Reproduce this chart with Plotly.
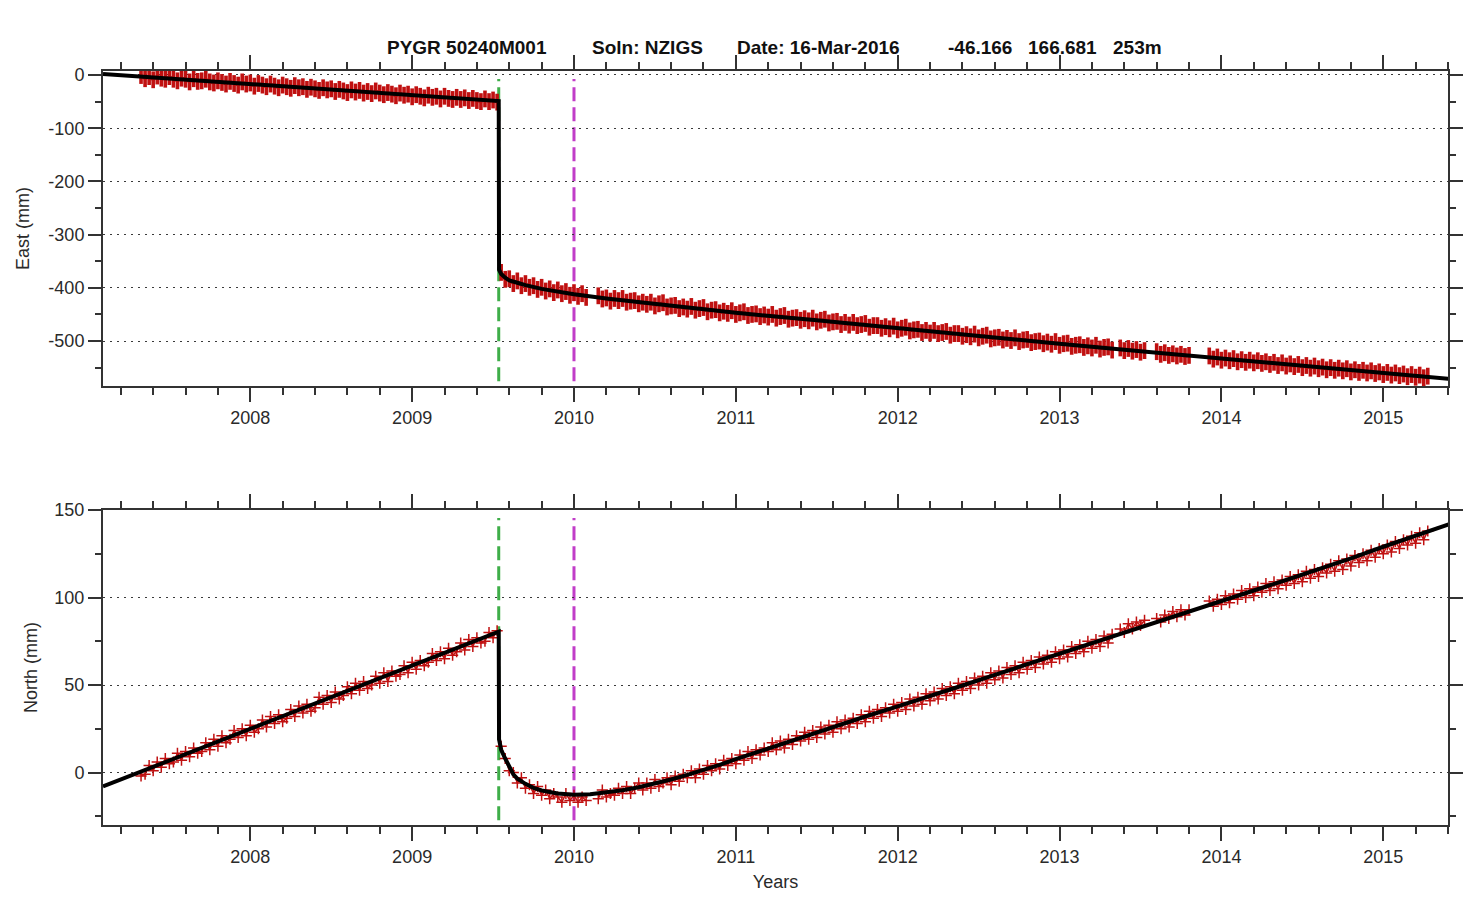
import plotly.graph_objects as go
from plotly.subplots import make_subplots

STEP = 0.025  # spacing of the plotted position solutions, in years

# ---------------------------------------------------------------------------
# Position solutions (mm), one block per continuous span of data
# ---------------------------------------------------------------------------
pre_start = 2007.325
east_pre = [-1, -7, -3, -9, -2, -6, -8, -3, -8, -11, -6, -8, -13, -7, -12, -11,
            -8, -13, -15, -11, -14, -17, -12, -16, -19, -13, -17, -15, -21, -16,
            -19, -22, -17, -21, -24, -19, -22, -25, -20, -24, -22, -27, -23, -26,
            -29, -24, -28, -26, -31, -27, -30, -33, -28, -32, -29, -34, -31, -35,
            -30, -34, -37, -33, -36, -39, -34, -38, -36, -41, -37, -40, -43, -38,
            -42, -40, -45, -40, -44, -46, -42, -46, -43, -48, -44, -48, -50, -45,
            -50, -47, -51]
north_pre = [-2, -1, 4, 1, 6, 3, 8, 5, 6, 11, 7, 12, 9, 14, 11, 12, 17, 13, 19,
             15, 21, 17, 19, 24, 20, 25, 21, 27, 23, 25, 30, 26, 32, 28, 33, 29,
             31, 36, 32, 38, 34, 39, 35, 37, 43, 39, 44, 40, 46, 42, 44, 49, 45,
             51, 47, 52, 48, 50, 55, 51, 57, 52, 58, 55, 56, 61, 57, 63, 59, 64,
             61, 63, 68, 64, 69, 65, 71, 67, 69, 74, 70, 76, 72, 77, 74, 75, 80,
             77, 81]

post1_start = 2009.55
east_post1 = [-371, -384, -383, -392, -387, -396, -392, -399, -396, -403, -399,
              -406, -402, -409, -404, -411, -407, -414, -409, -416, -411, -418]
north_post1 = [15, 8, 1, 0, -6, -3, -9, -7, -12, -8, -13, -10, -15, -12, -14,
               -17, -12, -16, -13, -17, -14, -16]

post2_start = 2010.15
east_post2 = [-415, -421, -419, -425, -420, -424, -420, -427, -425, -424, -430,
              -427, -431, -427, -434, -430, -428, -436, -434, -433, -439, -436,
              -440, -435, -442, -439, -437, -445, -442, -441, -447, -444, -448,
              -443, -450, -447, -445, -452, -450, -449, -454, -451, -455, -450,
              -457, -454, -452, -459, -457, -456, -461, -458, -462, -457, -464,
              -461, -459, -466, -464, -463, -469, -465, -470, -465, -471, -469,
              -467, -474, -471, -471, -476, -473, -477, -472, -479, -476, -474,
              -481, -479, -478, -484, -480, -485, -480, -486, -484, -482, -489,
              -486, -486, -491, -488, -492, -487, -494, -491, -489, -496, -494,
              -493, -498, -495, -499, -494, -501, -498, -497, -503, -501, -500,
              -505, -502, -506, -501, -508, -505, -504, -510, -508, -507, -512,
              -509, -513, -508, -515, -512, -511, -517]
north_post2 = [-15, -10, -14, -12, -13, -9, -12, -8, -12, -9, -6, -10, -6, -9,
               -4, -8, -6, -3, -7, -2, -5, -1, -3, 1, -3, 2, -1, 4, 1, 5, 2, 7,
               4, 8, 5, 10, 7, 12, 8, 13, 10, 14, 12, 17, 13, 18, 14, 19, 16, 21,
               18, 23, 19, 24, 20, 26, 22, 27, 23, 29, 25, 30, 26, 31, 28, 33, 29,
               35, 31, 36, 32, 37, 34, 39, 35, 40, 36, 42, 38, 43, 39, 45, 41, 46,
               42, 48, 44, 49, 45, 51, 47, 52, 48, 54, 50, 55, 51, 57, 53, 58, 54,
               60, 56, 61, 57, 63, 59, 64, 60, 66, 62, 67, 63, 69, 65, 70, 66, 72,
               68, 73, 69, 75, 71, 76, 72, 78, 74, 79]

post3_start = 2013.375
east_post3 = [-513, -518, -514, -519, -516, -521, -518]
north_post3 = [82, 80, 85, 82, 86, 84, 87]

post4_start = 2013.6
east_post4 = [-520, -525, -522, -527, -524, -528, -525, -529, -527]
north_post4 = [88, 86, 90, 88, 92, 89, 93, 90, 93]

post5_start = 2013.925
east_post5 = [-528, -534, -530, -536, -532, -537, -533, -539, -535, -540, -536,
              -541, -537, -542, -539, -544, -540, -546, -541, -547, -543, -548,
              -544, -550, -546, -551, -547, -552, -549, -554, -550, -555, -551,
              -556, -552, -558, -554, -559, -555, -560, -556, -561, -558, -563,
              -559, -564, -560, -565, -562, -567, -563, -568, -564, -569, -566]
north_post5 = [98, 95, 99, 96, 101, 97, 102, 99, 104, 100, 105, 101, 106, 103,
               108, 104, 109, 105, 110, 107, 112, 108, 113, 109, 115, 111, 116,
               112, 117, 114, 119, 115, 121, 116, 122, 118, 124, 120, 125, 121,
               127, 123, 128, 125, 130, 126, 132, 128, 133, 130, 135, 131, 137,
               133, 138]

# ---------------------------------------------------------------------------
# Fitted trajectory model (linear + offset + postseismic decay)
# ---------------------------------------------------------------------------
east_model_t = [2007.09, 2008.0, 2009.0, 2009.535, 2009.537, 2009.55, 2009.575,
                2009.6, 2009.65, 2009.7, 2009.8, 2009.9, 2010.0, 2010.2, 2010.4,
                2010.6, 2010.8, 2011.0, 2011.5, 2012.0, 2012.5, 2013.0, 2013.5,
                2014.0, 2014.5, 2015.0, 2015.41]
east_model = [2, -17, -38, -49, -366, -374, -381, -386, -390.5, -395, -402, -407,
              -412, -420, -427, -434, -441, -447, -461, -476, -491, -505, -519,
              -533, -547, -560, -571]

north_model_t = [2007.09, 2008.0, 2009.0, 2009.535, 2009.537, 2009.55, 2009.575,
                 2009.6, 2009.625, 2009.65, 2009.7, 2009.75, 2009.8, 2009.9,
                 2010.0, 2010.1, 2010.2, 2010.3, 2010.4, 2010.5, 2010.6, 2010.7,
                 2010.8, 2010.9, 2011.0, 2011.2, 2011.4, 2011.6, 2011.8, 2012.0,
                 2012.2, 2012.4, 2012.6, 2012.8, 2013.0, 2013.2, 2013.4, 2013.6,
                 2013.8, 2014.0, 2014.2, 2014.4, 2014.6, 2014.8, 2015.0, 2015.2,
                 2015.41]
north_model = [-8, 25, 61.2, 80.5, 19, 13, 8, 3, -1, -3.5, -6.5, -8.8, -10.3, -12,
               -12.7, -12.4, -11.5, -10.1, -8.4, -6.4, -4, -1.4, 1.4, 4.4, 7.6,
               13.8, 20.1, 26.1, 32, 37.8, 43.6, 49.7, 55.8, 61.9, 68, 74, 79.8,
               85.8, 91.8, 98, 104, 110, 116, 122.4, 129, 135.5, 142]

# Event epochs: earthquake offset and model break
event_epochs = [2009.535, 2010.0]
event_colors = ["#3fae49", "#c13dc8"]

# Axis ticks
year_ticks = [2008, 2009, 2010, 2011, 2012, 2013, 2014, 2015]
east_ticks = [0, -100, -200, -300, -400, -500]
east_ticktext = ["0", "-100", "-200", "-300", "-400", "-500"]
north_ticks = [0, 50, 100, 150]
north_ticktext = ["0", "50", "100", "150"]

title_parts = ["PYGR 50240M001", "Soln: NZIGS", "Date: 16-Mar-2016",
               "-46.166", "166.681", "253m"]
title_left_px = [385, 590, 735, 946, 1026, 1111]

X_RANGE = [2007.09, 2015.40]
EAST_RANGE = [-584.5, 7.5]
NORTH_RANGE = [-30, 150]


def join_blocks(blocks):
    """Concatenate (start, values) blocks, separated by gaps."""
    xs, ys = [], []
    for start, vals in blocks:
        if xs:
            xs.append(None)
            ys.append(None)
        xs.extend(round(start + STEP * i, 3) for i in range(len(vals)))
        ys.extend(vals)
    return xs, ys


starts = [pre_start, post1_start, post2_start, post3_start, post4_start, post5_start]
east_blocks = [east_pre, east_post1, east_post2, east_post3, east_post4, east_post5]
north_blocks = [north_pre, north_post1, north_post2, north_post3, north_post4, north_post5]

ex, ey = join_blocks(list(zip(starts, east_blocks)))
nx, ny = join_blocks(list(zip(starts, north_blocks)))

DATA_RED = "#c01010"
AXIS_COL = "#333333"
FONT = "Liberation Sans, Arial, sans-serif"
TITLE_FONT = "Liberation Sans, Arial, sans-serif"

fig = make_subplots(rows=2, cols=1, vertical_spacing=124 / 754)

fig.add_trace(go.Scatter(
    x=ex, y=ey, mode="lines+markers",
    line=dict(color=DATA_RED, width=3),
    marker=dict(symbol="line-ns", size=12, line=dict(color=DATA_RED, width=3.6)),
    connectgaps=False, showlegend=False), row=1, col=1)
fig.add_trace(go.Scatter(
    x=east_model_t, y=east_model, mode="lines",
    line=dict(color="black", width=4), showlegend=False), row=1, col=1)

fig.add_trace(go.Scatter(
    x=nx, y=ny, mode="lines+markers",
    line=dict(color=DATA_RED, width=1.5),
    marker=dict(symbol="cross-thin", size=8, line=dict(color=DATA_RED, width=1.5)),
    connectgaps=False, showlegend=False), row=2, col=1)
fig.add_trace(go.Scatter(
    x=north_model_t, y=north_model, mode="lines",
    line=dict(color="black", width=4), showlegend=False), row=2, col=1)

# Vertical event markers in both panels
for xref, yref in (("x", "y domain"), ("x2", "y2 domain")):
    for ep, col in zip(event_epochs, event_colors):
        fig.add_shape(type="line", xref=xref, yref=yref, x0=ep, x1=ep,
                      y0=0.015, y1=0.975, layer="below",
                      line=dict(color=col, width=3, dash="14px,6px"))

xaxis_style = dict(
    range=X_RANGE, tickmode="array", tickvals=year_ticks,
    ticktext=[str(y) for y in year_ticks],
    ticks="outside", ticklen=14, tickwidth=2, tickcolor=AXIS_COL,
    showline=True, linewidth=2, linecolor=AXIS_COL, mirror="ticks",
    showgrid=False, zeroline=False,
    tickfont=dict(family=FONT, size=18, color="#2a2a2a"),
    minor=dict(tickmode="linear", tick0=2007.0, dtick=0.2, ticks="outside",
               ticklen=7, tickwidth=1.5, tickcolor=AXIS_COL, showgrid=False),
)
yaxis_style = dict(
    ticks="outside", ticklen=13, tickwidth=2, tickcolor=AXIS_COL,
    showline=True, linewidth=2, linecolor=AXIS_COL, mirror="ticks",
    showgrid=True, gridcolor="#3a3a3a", gridwidth=1.3, griddash="2px,5px",
    zeroline=False, tickmode="array",
    tickfont=dict(family=FONT, size=18, color="#2a2a2a"),
    title_font=dict(family=FONT, size=18, color="#2a2a2a"),
)

fig.update_xaxes(**xaxis_style)
fig.update_yaxes(**yaxis_style)
fig.update_yaxes(range=EAST_RANGE, tickvals=east_ticks, ticktext=east_ticktext,
                 title_text="East (mm)", title_standoff=14,
                 minor=dict(tickmode="linear", tick0=0, dtick=50, ticks="outside",
                            ticklen=6, tickwidth=1.5, tickcolor=AXIS_COL,
                            showgrid=False),
                 row=1, col=1)
fig.update_yaxes(range=NORTH_RANGE, tickvals=north_ticks, ticktext=north_ticktext,
                 title_text="North (mm)", title_standoff=12,
                 minor=dict(tickmode="linear", tick0=0, dtick=25, ticks="outside",
                            ticklen=6, tickwidth=1.5, tickcolor=AXIS_COL,
                            showgrid=False),
                 row=2, col=1)
fig.update_xaxes(title_text="Years", title_standoff=10,
                 title_font=dict(family=FONT, size=18, color="#2a2a2a"),
                 row=2, col=1)

# Header line above the top panel
for text, px in zip(title_parts, title_left_px):
    fig.add_annotation(text=f"<b>{text}</b>", xref="paper", yref="paper",
                       x=(px - 103) / 1345, y=1 + (71 - 47) / 754,
                       xanchor="left", yanchor="middle", showarrow=False,
                       font=dict(family=TITLE_FONT, size=19, color="#111111"))

fig.update_layout(
    width=1474, height=922,
    margin=dict(l=103, r=26, t=71, b=97),
    paper_bgcolor="white", plot_bgcolor="white",
    showlegend=False,
)

fig.write_html("out.html")
